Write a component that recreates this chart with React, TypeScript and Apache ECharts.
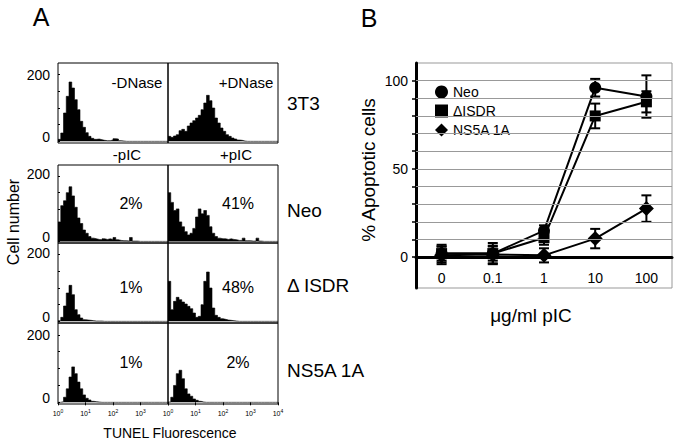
import React, { useEffect, useRef } from 'react';
import * as echarts from 'echarts';

// ---------- Panel A: flow histograms (counts per 0.1-decade bin, 10^0 .. 10^4) ----------
const countLabels = [0, 200];
const countTicks = [0, 50, 100, 150, 200];

const h3t3Minus = [6, 25, 85, 135, 178, 160, 125, 95, 60, 42, 26, 15, 9, 6, 7, 5, 3, 2, 2, 4, 8, 7, 2, 1, 0, 0, 0, 0, 0, 0, 0, 0, 0, 0, 0, 0, 0, 0, 0, 0];
const h3t3Plus = [15, 12, 16, 20, 32, 36, 30, 46, 55, 62, 70, 78, 95, 115, 138, 122, 100, 70, 55, 40, 30, 20, 15, 10, 7, 4, 3, 1, 0, 0, 0, 0, 0, 0, 0, 0, 0, 0, 0, 0];
const neoMinus = [60, 110, 125, 150, 168, 140, 105, 72, 55, 35, 25, 15, 10, 8, 6, 5, 8, 6, 8, 6, 12, 5, 3, 2, 2, 1, 12, 1, 1, 0, 0, 0, 0, 0, 0, 0, 0, 0, 0, 0];
const neoPlus = [150, 120, 95, 100, 60, 45, 30, 20, 25, 40, 75, 100, 85, 95, 80, 45, 25, 15, 10, 8, 8, 6, 8, 6, 5, 3, 3, 10, 2, 2, 1, 1, 10, 1, 0, 0, 0, 0, 0, 0];
const isdrMinus = [2, 12, 46, 85, 108, 80, 35, 20, 10, 5, 4, 3, 2, 1, 1, 1, 0, 0, 0, 0, 0, 0, 0, 0, 0, 0, 0, 0, 0, 0, 0, 0, 0, 0, 0, 0, 0, 0, 0, 0];
const isdrPlus = [120, 35, 60, 72, 65, 58, 52, 45, 38, 25, 12, 15, 50, 120, 148, 100, 40, 18, 12, 8, 6, 4, 3, 2, 1, 0, 0, 0, 0, 0, 0, 0, 0, 0, 0, 0, 0, 0, 0, 0];
const ns5aMinus = [0, 2, 15, 40, 75, 105, 85, 60, 40, 22, 12, 7, 3, 2, 1, 0, 0, 0, 0, 0, 0, 0, 0, 0, 0, 0, 0, 0, 0, 0, 0, 0, 0, 0, 0, 0, 0, 0, 0, 0];
const ns5aPlus = [1, 15, 50, 85, 95, 70, 40, 25, 18, 10, 6, 3, 1, 0, 0, 0, 0, 0, 0, 0, 0, 0, 0, 0, 0, 0, 0, 0, 0, 0, 0, 0, 0, 0, 0, 0, 0, 0, 0, 0];

const rowNames = ['3T3', 'Neo', '\u0394 ISDR', 'NS5A 1A'];
const leftNotes = ['-DNase', '2%', '1%', '1%'];
const rightNotes = ['+DNase', '41%', '48%', '2%'];
const histograms = [
  [h3t3Minus, h3t3Plus],
  [neoMinus, neoPlus],
  [isdrMinus, isdrPlus],
  [ns5aMinus, ns5aPlus],
];

// ---------- Panel B: % apoptotic cells ----------
const doses = ['0', '0.1', '1', '10', '100'];
const neoVals = [2, 2, 15, 96, 91];
const neoErr = [5, 6, 3, 5, 12];
const isdrVals = [2, 2, 11, 80, 88];
const isdrErr = [4, 4, 4, 7, 6];
const ns5aVals = [1, 1.5, 1, 10.5, 27.5];
const ns5aErr = [5, 5, 4, 5.5, 7.5];
const gridValues = [0, 10, 20, 30, 40, 50, 60, 70, 80, 90, 100];
const bLabelValues = [0, 50, 100];

const FONT = '"Liberation Sans", Arial, Helvetica, sans-serif';

// layout
const rowTops = [63, 165, 243, 323];
const rowHeights = [80, 78, 80, 81];
const colLefts = [58, 168];
const colWidth = 110;
const noteY = [82, 203, 287, 362];
const rowLabelY = [103, 210, 285, 370];

function buildOption() {
  const grid: any[] = [];
  const xAxis: any[] = [];
  const yAxis: any[] = [];
  const series: any[] = [];
  const graphic: any[] = [];

  histograms.forEach((pair, r) => {
    pair.forEach((vals, c) => {
      const idx = grid.length;
      grid.push({
        left: colLefts[c], top: rowTops[r], width: colWidth, height: rowHeights[r],
        show: true, borderColor: '#000', borderWidth: 1, backgroundColor: 'transparent',
      });
      const isBottom = r === histograms.length - 1;
      xAxis.push({
        gridIndex: idx, type: 'value', min: 0, max: 4, interval: 1,
        axisLine: { show: false },
        axisTick: { show: isBottom, length: 3, lineStyle: { color: '#000' } },
        splitLine: { show: false },
        axisLabel: {
          show: isBottom,
          margin: 4,
          fontSize: 7,
          color: '#000',
          formatter: (v: number) => (c === 0 && v === 4 ? '' : '10{s|' + v + '}'),
          rich: { s: { fontSize: 5, padding: [0, 0, 5, 0], color: '#000' } },
        },
      });
      const up200 = r === 1 || r === 2 ? 4 : 0;
      yAxis.push({
        gridIndex: idx, type: 'value', min: -5, max: 235,
        axisLine: { show: false },
        splitLine: { show: false },
        axisTick: { show: c === 0, inside: true, length: 2, customValues: countTicks, lineStyle: { color: '#000' } },
        axisLabel: {
          show: c === 0, customValues: countLabels, margin: 8, color: '#000',
          formatter: (v: number) => (v === 0 ? '{z|0}' : '{t|' + v + '}'),
          rich: {
            z: { fontSize: 14, color: '#000', padding: [0, 0, 8, 0] },
            t: { fontSize: 14, color: '#000', padding: [0, 0, up200, 0] },
          },
        },
      });
      const binW = 4 / vals.length;
      const data = vals.map((v, i) => [i * binW, v]);
      data.push([4, vals[vals.length - 1]]);
      series.push({
        type: 'line', xAxisIndex: idx, yAxisIndex: idx, step: 'end', symbol: 'none', silent: true,
        data, lineStyle: { color: '#000', width: 0.6 }, areaStyle: { color: '#000', opacity: 1 },
      });
    });

    graphic.push({
      type: 'text', x: 287, y: rowLabelY[r],
      style: { text: rowNames[r], fontSize: 19, fontFamily: FONT, fill: '#000', align: 'left', verticalAlign: 'middle' },
    });
    graphic.push({
      type: 'text', x: r === 0 ? 137 : 131, y: noteY[r],
      style: { text: leftNotes[r], fontSize: r === 0 ? 15 : 16, fontFamily: FONT, fill: '#000', align: 'center', verticalAlign: 'middle' },
    });
    graphic.push({
      type: 'text', x: r === 0 ? 246 : 238, y: noteY[r],
      style: { text: rightNotes[r], fontSize: r === 0 ? 15 : 16, fontFamily: FONT, fill: '#000', align: 'center', verticalAlign: 'middle' },
    });
  });

  const txt = (text: string, x: number, y: number, fontSize: number, rotation = 0) => ({
    type: 'text', x, y, rotation,
    style: { text, fontSize, fontFamily: FONT, fill: '#000', align: 'center', verticalAlign: 'middle' },
  });
  graphic.push(txt('A', 41, 17, 25));
  graphic.push(txt('B', 369, 18, 25));
  graphic.push(txt('-pIC', 127, 154, 15));
  graphic.push(txt('+pIC', 236, 154, 15));
  graphic.push(txt('Cell number', 13, 222, 16, Math.PI / 2));
  graphic.push(txt('TUNEL Fluorescence', 170, 433, 14));
  graphic.push(txt('% Apoptotic cells', 368, 170, 19, Math.PI / 2));
  graphic.push(txt('\u03bcg/ml pIC', 531, 315, 19));

  // Panel B
  const bi = grid.length;
  grid.push({ left: 416, top: 63, width: 256, height: 225, show: true, borderColor: '#999', borderWidth: 1, backgroundColor: 'transparent' });
  xAxis.push({
    gridIndex: bi, type: 'category', data: doses, boundaryGap: true,
    axisLine: { lineStyle: { color: '#000', width: 3 } },
    axisTick: { inside: true, length: 24, alignWithLabel: true, lineStyle: { color: '#000', width: 2 } },
    axisLabel: { inside: true, margin: 3, fontSize: 14, color: '#000', backgroundColor: '#fff', padding: [1, 2, 0, 2] },
    splitLine: { show: false },
    z: 5,
  });
  yAxis.push({
    gridIndex: bi, type: 'value', min: -17.5, max: 110,
    axisLine: { show: true, lineStyle: { color: '#000', width: 3 } },
    axisTick: { show: true, length: 4, customValues: gridValues, lineStyle: { color: '#000', width: 1.5 } },
    axisLabel: { customValues: bLabelValues, margin: 8, fontSize: 14, color: '#000' },
    splitLine: { show: false },
  });

  series.push({
    type: 'line', name: 'gridlines', xAxisIndex: bi, yAxisIndex: bi, data: [], z: 1, silent: true,
    markLine: {
      silent: true, symbol: ['none', 'none'], label: { show: false },
      lineStyle: { color: '#999', width: 1, type: 'solid' },
      data: gridValues.map((v) => ({ yAxis: v })),
    },
  });

  const errSeries = (name: string, vals: number[], errs: number[]) => ({
    type: 'custom', name: name + '-err', xAxisIndex: bi, yAxisIndex: bi, silent: true, z: 3,
    data: vals.map((v, i) => [i, v - errs[i], v + errs[i]]),
    renderItem: (params: any, api: any) => {
      const x = api.value(0);
      const lo = api.coord([x, api.value(1)]);
      const hi = api.coord([x, api.value(2)]);
      const cap = 5;
      const st = { stroke: '#000', lineWidth: 2 };
      return {
        type: 'group',
        children: [
          { type: 'line', shape: { x1: hi[0], y1: hi[1], x2: lo[0], y2: lo[1] }, style: st },
          { type: 'line', shape: { x1: hi[0] - cap, y1: hi[1], x2: hi[0] + cap, y2: hi[1] }, style: st },
          { type: 'line', shape: { x1: lo[0] - cap, y1: lo[1], x2: lo[0] + cap, y2: lo[1] }, style: st },
        ],
      };
    },
  });
  series.push(errSeries('Neo', neoVals, neoErr));
  series.push(errSeries('\u0394ISDR', isdrVals, isdrErr));
  series.push(errSeries('NS5A 1A', ns5aVals, ns5aErr));

  const lineSeries = (name: string, vals: number[], symbol: string, size: number) => ({
    type: 'line', name, xAxisIndex: bi, yAxisIndex: bi, data: vals, symbol, symbolSize: size, z: 4,
    lineStyle: { color: '#000', width: 2 }, itemStyle: { color: '#000' }, silent: true,
  });
  series.push(lineSeries('Neo', neoVals, 'circle', 12));
  series.push(lineSeries('\u0394ISDR', isdrVals, 'rect', 11));
  series.push(lineSeries('NS5A 1A', ns5aVals, 'diamond', 15));

  return {
    animation: false,
    backgroundColor: '#fff',
    textStyle: { fontFamily: FONT },
    grid, xAxis, yAxis, series, graphic,
    legend: {
      left: 430, top: 80, orient: 'vertical', itemWidth: 13, itemHeight: 13, itemGap: 5,
      selectedMode: false,
      textStyle: { fontSize: 14, color: '#000', fontFamily: FONT },
      data: [
        { name: 'Neo', icon: 'circle' },
        { name: '\u0394ISDR', icon: 'rect' },
        { name: 'NS5A 1A', icon: 'diamond' },
      ],
    },
  };
}

export default function App() {
  const ref = useRef<HTMLDivElement>(null);
  useEffect(() => {
    if (!ref.current) return;
    const chart = echarts.init(ref.current, undefined, { renderer: 'svg' });
    chart.setOption(buildOption() as any);
    return () => chart.dispose();
  }, []);
  return (
    <div
      ref={ref}
      style={{ position: 'fixed', left: 0, top: 0, width: 678, height: 444, background: '#fff' }}
    />
  );
}
